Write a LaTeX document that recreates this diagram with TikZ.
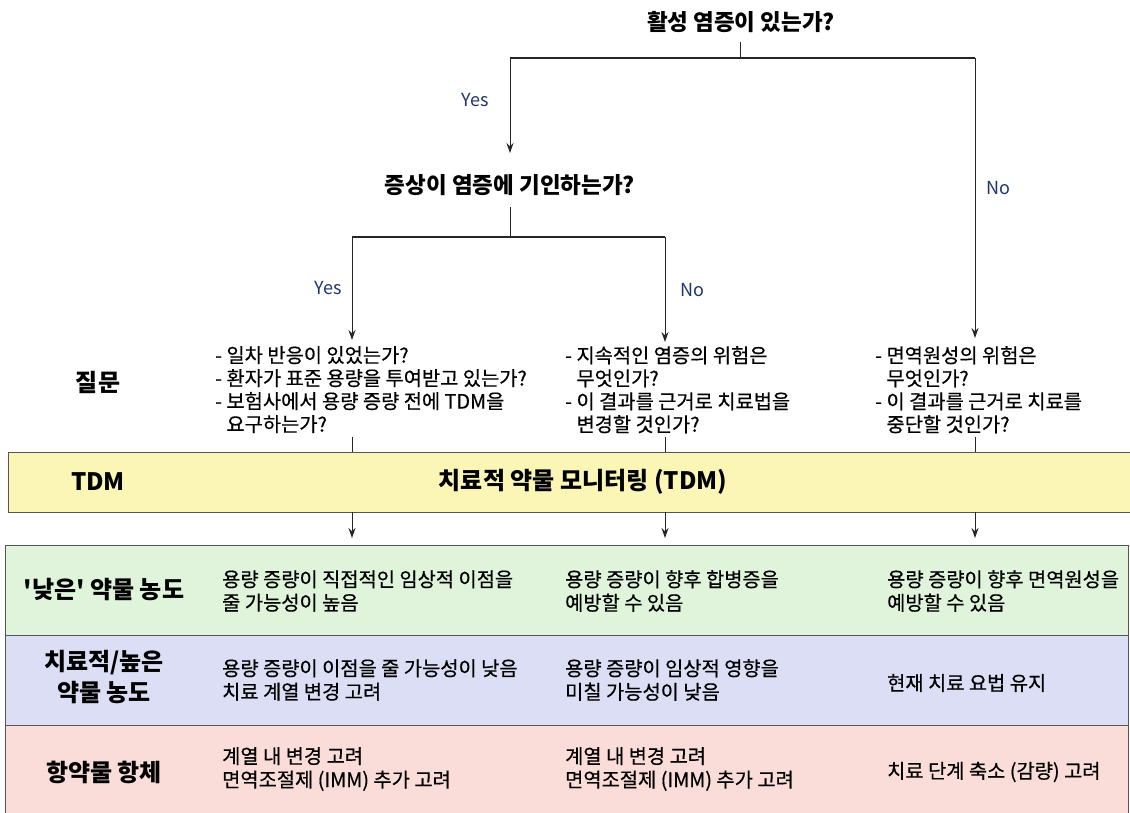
\documentclass[tikz,border=0pt]{standalone}
\usepackage{fontspec}
\setmainfont{Noto Sans CJK KR}
\newfontfamily\bodyfont[FakeBold=0.5]{Noto Sans CJK KR}
\usetikzlibrary{arrows.meta}
\definecolor{tdmfill}{HTML}{FBF6B6}
\definecolor{rowgreen}{HTML}{DFF4DA}
\definecolor{rowblue}{HTML}{DCDEF5}
\definecolor{rowred}{HTML}{FADDD8}
\definecolor{edgegrey}{HTML}{555555}
\definecolor{yesno}{HTML}{1F3470}
\begin{document}
\begin{tikzpicture}[x=1pt,y=-1pt,
  qtitle/.style={font=\bfseries\fontsize{22.5}{26}\selectfont, inner sep=0pt},
  yn/.style={font=\fontsize{18}{20}\selectfont, text=yesno, inner sep=0pt},
  qblock/.style={font=\bodyfont\fontsize{19.8}{23}\selectfont, align=left, anchor=north west, inner sep=0pt},
  rowlabel/.style={font=\bfseries\fontsize{24}{31}\selectfont, align=center, inner sep=0pt},
  cell/.style={font=\bodyfont\fontsize{19.8}{23.5}\selectfont, align=left, anchor=west, inner sep=0pt},
  conn/.style={draw=black!85, line width=1pt},
  hconn/.style={draw=black!85, line width=1.5pt},
  arr/.style={conn, -{Stealth[length=10pt,width=7pt]}},
  band/.style={draw=edgegrey, line width=1pt}
]
\useasboundingbox (0,0) rectangle (1130,813);

% --- decision titles
\node[qtitle] (q1) at (741,22) {활성 염증이 있는가?};
\node[qtitle] (q2) at (510,185) {증상이 염증에 기인하는가?};

% junction and arrow-end coordinates
\coordinate (j1) at (740,58);
\coordinate (j2) at (510,237);
\coordinate (e2) at (510,153);
\coordinate (ea) at (352,340);
\coordinate (eb) at (665,342);
\coordinate (ec) at (975,338);
\coordinate (h1l) at (510,58);
\coordinate (h1r) at (975,58);
\coordinate (h2l) at (352,237);
\coordinate (h2r) at (665,237);

% --- question blocks
\node[qblock] (qa) at (215,346) {- 일차 반응이 있었는가?\\- 환자가 표준 용량을 투여받고 있는가?\\- 보험사에서 용량 증량 전에 TDM을\\\phantom{- }요구하는가?};
\node[qblock] (qb) at (565,346) {- 지속적인 염증의 위험은\\\phantom{- }무엇인가?\\- 이 결과를 근거로 치료법을\\\phantom{- }변경할 것인가?};
\node[qblock] (qc) at (875,346) {- 면역원성의 위험은\\\phantom{- }무엇인가?\\- 이 결과를 근거로 치료를\\\phantom{- }중단할 것인가?};
\node[rowlabel] (lq) at (98,382) {질문};

% --- TDM band
\draw[band, fill=tdmfill] (8,452) rectangle (1132,512);
\node[rowlabel] (ltdm) at (98,482) {TDM};
\node[qtitle, font=\bfseries\fontsize{24}{28}\selectfont] (tdm) at (583,482) {치료적 약물 모니터링 (TDM)};
\coordinate (ta) at (352,452);
\coordinate (tb) at (665,452);
\coordinate (tc) at (975,452);
\coordinate (ba) at (352,512);
\coordinate (bb) at (665,512);
\coordinate (bc) at (975,512);
\coordinate (ra) at (352,538);
\coordinate (rb) at (665,538);
\coordinate (rc) at (975,538);

% --- connectors
\draw[conn] (j1 |- 0,42) -- (j1);
\draw[hconn] (h1l) -- (h1r);
\draw[arr] (h1l) -- (e2);
\draw[arr] (h1r) -- (ec);
\draw[conn] (j2 |- 0,207) -- (j2);
\draw[hconn] (h2l) -- (h2r);
\draw[arr] (h2l) -- (ea);
\draw[arr] (h2r) -- (eb);
\node[yn] (y1) at (475,100) {Yes};
\node[yn] (n1) at (998,188) {No};
\node[yn] (y2) at (328,288) {Yes};
\node[yn] (n2) at (692,290) {No};

\draw[conn] (ta |- 0,437) -- (ta);
\draw[conn] (tb |- 0,437) -- (tb);
\draw[conn] (tc |- 0,437) -- (tc);
\draw[arr] (ba) -- (ra);
\draw[arr] (bb) -- (rb);
\draw[arr] (bc) -- (rc);

% --- outcome table
\draw[band, fill=rowgreen] (5,545) rectangle (1128,635);
\draw[band, fill=rowblue] (5,635) rectangle (1128,725);
\draw[band, fill=rowred] (5,725) rectangle (1128,815);

\node[rowlabel] (r1) at (104,590) {\textquotesingle 낮은\textquotesingle{} 약물 농도};
\node[rowlabel] (r2) at (104,677) {치료적/높은\\약물 농도};
\node[rowlabel] (r3) at (104,772) {항약물 항체};

\node[cell] (c11) at (222,591) {용량 증량이 직접적인 임상적 이점을\\줄 가능성이 높음};
\node[cell] (c12) at (565,591) {용량 증량이 향후 합병증을\\예방할 수 있음};
\node[cell] (c13) at (887,591) {용량 증량이 향후 면역원성을\\예방할 수 있음};
\node[cell] (c21) at (222,680) {용량 증량이 이점을 줄 가능성이 낮음\\치료 계열 변경 고려};
\node[cell] (c22) at (565,680) {용량 증량이 임상적 영향을\\미칠 가능성이 낮음};
\node[cell] (c23) at (887,683) {현재 치료 요법 유지};
\node[cell] (c31) at (222,769) {계열 내 변경 고려\\면역조절제 (IMM) 추가 고려};
\node[cell] (c32) at (565,769) {계열 내 변경 고려\\면역조절제 (IMM) 추가 고려};
\node[cell] (c33) at (887,772) {치료 단계 축소 (감량) 고려};
\end{tikzpicture}
\end{document}
